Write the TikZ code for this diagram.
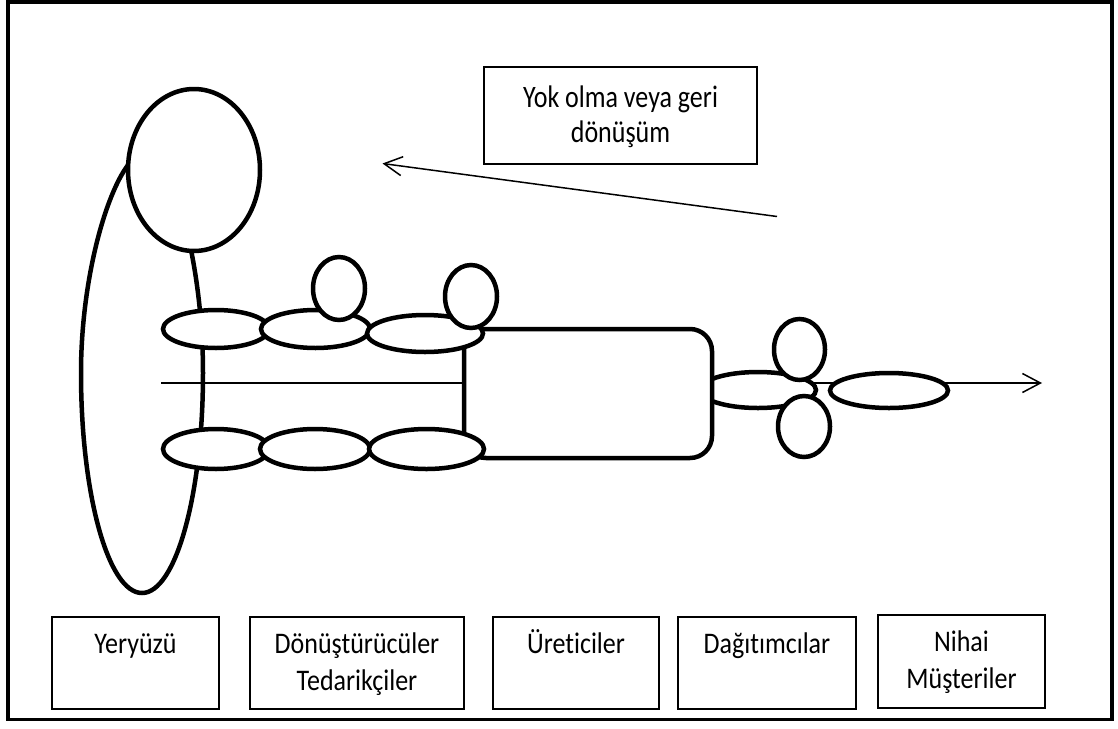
\documentclass[tikz,border=0pt]{standalone}
\usepackage{graphicx}
\usepackage{fontspec}
\setmainfont{Carlito}[Ligatures=NoCommon]
\usetikzlibrary{shapes.geometric,arrows.meta}
% labels are set a little taller than the font's natural shape
\newcommand\tallstage[1]{\scalebox{1}[1.15]{#1}}
\newcommand\talltop[1]{\scalebox{1}[1.2]{#1}}
\begin{document}
\begin{tikzpicture}[x=1pt,y=-1pt,
  figure/.style={draw, fill=white, line width=4.5pt, inner sep=0pt, outer sep=0pt},
  oval/.style={figure, ellipse},
  labelbox/.style={draw, fill=white, line width=1.5pt, rectangle, inner sep=0pt, outer sep=0pt},
  lbl/.style={font=\fontsize{26}{35}\selectfont, inner sep=0pt, anchor=base},
  flow/.style={line width=1.5pt, -{Straight Barb[length=18pt,width=19pt]}},
]
\useasboundingbox (0,0) rectangle (1118,728);
\fill[white] (0,0) rectangle (1118,728);
\draw[line width=3.5pt] (8,1.75) rectangle (1112,719.5);

% the figure: body (narrowing towards the head) and head
\draw[figure] (142,593)
  .. controls (108.3,593) and (81,494.4) .. (81,373)
  .. controls (81,260) and (118,153) .. (145,153)
  .. controls (172,153) and (203,260) .. (203,373)
  .. controls (203,494.4) and (175.7,593) .. cycle;
\node[oval, minimum width=132pt, minimum height=162pt] (head) at (194,170) {};

% main flow through the chain
\coordinate (flowstart) at (161,383);
\coordinate (flowend) at (1042,383);
\draw[flow] (flowstart) -- (flowend);

% distribution link behind the plant
\node[oval, minimum width=116pt, minimum height=36pt] (dist) at (758,390) {};

% the plant
\node[figure, rectangle, rounded corners=22pt, minimum width=248pt, minimum height=129pt] (plant) at (588,393.5) {};

% upper row of suppliers
\node[oval, minimum width=106pt, minimum height=38pt] (up1) at (216,329) {};
\node[oval, minimum width=109pt, minimum height=38pt] (up2) at (315.5,329) {};
\node[oval, minimum width=116pt, minimum height=37pt] (up3) at (425,333.5) {};
\node[oval, minimum width=52pt, minimum height=63pt] (knob1) at (339,288.5) {};
\node[oval, minimum width=52pt, minimum height=63pt] (knob2) at (471,296.5) {};

% lower row of suppliers
\node[oval, minimum width=106pt, minimum height=40pt] (low1) at (216,449) {};
\node[oval, minimum width=110pt, minimum height=40pt] (low2) at (315,449) {};
\node[oval, minimum width=115pt, minimum height=40pt] (low3) at (426.5,449) {};

% distributors and end customer
\node[oval, minimum width=51pt, minimum height=61pt] (dist1) at (799.5,349.5) {};
\node[oval, minimum width=52pt, minimum height=61pt] (dist2) at (804,426.5) {};
\node[oval, minimum width=118pt, minimum height=35pt] (customer) at (889,390.5) {};

% disposal or recycling
\node[labelbox, minimum width=273pt, minimum height=97pt] (fate) at (620.5,115.5) {};
\node[lbl] (fate1) at (620.5,107) {\talltop{Yok olma veya geri}};
\node[lbl] (fate2) at (620.5,142) {\talltop{dönüşüm}};
\coordinate (rtail) at (777,216.5);
\coordinate (rtip) at (382.5,163.5);
\draw[flow] (rtail) -- (rtip);

% stage labels
\node[labelbox, minimum width=167pt, minimum height=92pt] (earth) at (135.5,663) {};
\node[lbl] (earthT) at (135.5,653) {\tallstage{Yeryüzü}};
\node[labelbox, minimum width=214pt, minimum height=92pt] (supp) at (357,663) {};
\node[lbl] (suppT1) at (357,653) {\tallstage{Dönüştürücüler}};
\node[lbl] (suppT2) at (357,690) {\tallstage{Tedarikçiler}};
\node[labelbox, minimum width=166pt, minimum height=92pt] (prod) at (576,663) {};
\node[lbl] (prodT) at (576,653) {\tallstage{Üreticiler}};
\node[labelbox, minimum width=178pt, minimum height=92pt] (distr) at (767,663) {};
\node[lbl] (distrT) at (767,653) {\tallstage{Dağıtımcılar}};
\node[labelbox, minimum width=167pt, minimum height=93pt] (final) at (961.5,661.5) {};
\node[lbl] (finalT1) at (961.5,651) {\tallstage{Nihai}};
\node[lbl] (finalT2) at (961.5,688) {\tallstage{Müşteriler}};
\end{tikzpicture}
\end{document}
